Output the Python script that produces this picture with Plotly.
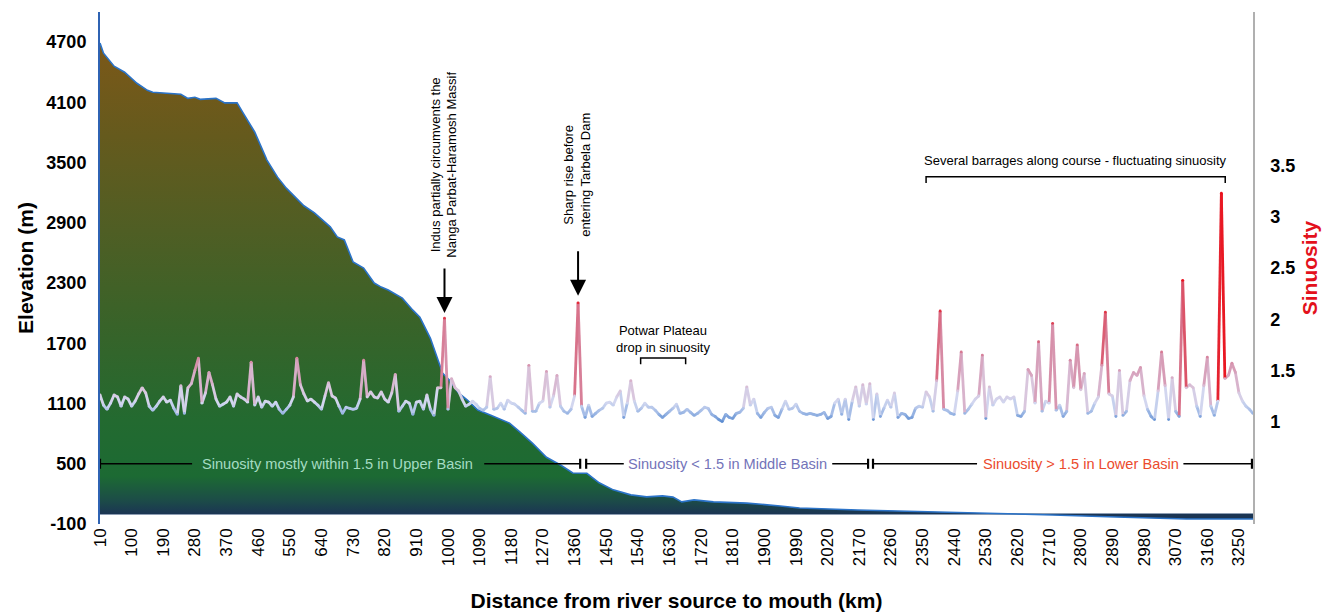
import plotly.graph_objects as go
from plotly.colors import sample_colorscale

FONT = "Arial, 'Liberation Sans', Helvetica, sans-serif"

# ---------------- data ----------------
# Elevation profile of the river (km from source, metres)
elev_km = [10, 20, 50, 80, 115, 145, 160, 200, 240, 260,
           280, 295, 340, 365, 400, 417, 450, 485, 515, 540,
           575, 590, 620, 665, 685, 705, 730, 760, 790, 810,
           830, 850, 870, 900, 920, 950, 970, 985, 1005, 1030,
           1055, 1085, 1120, 1175, 1205, 1240, 1280, 1320, 1355, 1395,
           1430, 1470, 1520, 1565, 1610, 1640, 1665, 1700, 1755, 1850,
           1945, 2000, 2165, 2400, 2600, 2720, 2900, 3100, 3290]
elev_m = [4690, 4590, 4460, 4400, 4290, 4220, 4200, 4190, 4180, 4140,
          4150, 4130, 4140, 4095, 4095, 3995, 3805, 3525, 3355, 3245,
          3125, 3070, 3000, 2860, 2760, 2730, 2510, 2450, 2300, 2260,
          2230, 2190, 2150, 2030, 1960, 1750, 1560, 1400, 1330, 1205,
          1135, 1035, 985, 905, 815, 705, 565, 488, 408, 405,
          310, 240, 190, 170, 180, 168, 120, 140, 120, 108,
          80, 60, 40, 20, 0, -10, -30, -50, -50]

# Sinuosity every 10 km (10 ... 3290 km)
sin_km = list(range(10, 3300, 10))
sinuosity = [
    1.26, 1.16, 1.12, 1.18, 1.26, 1.24, 1.15, 1.24, 1.22, 1.15,
    1.20, 1.27, 1.33, 1.28, 1.15, 1.11, 1.15, 1.20, 1.24, 1.19,
    1.21, 1.13, 1.07, 1.35, 1.08, 1.33, 1.37, 1.50, 1.62, 1.18,
    1.28, 1.48, 1.36, 1.22, 1.15, 1.17, 1.19, 1.24, 1.15, 1.27,
    1.24, 1.22, 1.19, 1.58, 1.16, 1.24, 1.14, 1.20, 1.19, 1.15,
    1.19, 1.12, 1.08, 1.12, 1.16, 1.24, 1.62, 1.36, 1.27, 1.20,
    1.22, 1.19, 1.16, 1.12, 1.25, 1.38, 1.25, 1.23, 1.15, 1.08,
    1.14, 1.13, 1.12, 1.13, 1.22, 1.60, 1.24, 1.29, 1.24, 1.23,
    1.29, 1.22, 1.19, 1.28, 1.46, 1.10, 1.15, 1.20, 1.18, 1.07,
    1.19, 1.20, 1.12, 1.26, 1.12, 1.06, 1.33, 1.33, 2.01, 1.12,
    1.42, 1.33, 1.30, 1.22, 1.15, 1.17, 1.20, 1.17, 1.13, 1.11,
    1.14, 1.44, 1.12, 1.13, 1.18, 1.12, 1.21, 1.18, 1.17, 1.14,
    1.11, 1.08, 1.55, 1.10, 1.10, 1.18, 1.20, 1.49, 1.14, 1.25,
    1.45, 1.15, 1.10, 1.08, 1.12, 1.25, 2.16, 1.15, 1.04, 1.16,
    1.05, 1.08, 1.11, 1.13, 1.18, 1.19, 1.16, 1.24, 1.30, 1.04,
    1.18, 1.40, 1.20, 1.10, 1.13, 1.18, 1.14, 1.14, 1.11, 1.07,
    1.04, 1.07, 1.10, 1.13, 1.17, 1.08, 1.09, 1.12, 1.09, 1.06,
    1.08, 1.11, 1.14, 1.13, 1.07, 1.05, 1.02, 1.00, 1.07, 1.04,
    1.03, 1.08, 1.09, 1.13, 1.34, 1.16, 1.22, 1.08, 1.04, 1.09,
    1.13, 1.14, 1.06, 1.04, 1.12, 1.20, 1.12, 1.13, 1.17, 1.10,
    1.08, 1.07, 1.08, 1.07, 1.06, 1.07, 1.09, 1.03, 1.05, 1.18,
    1.22, 1.07, 1.22, 1.02, 1.20, 1.34, 1.15, 1.36, 1.17, 1.37,
    1.02, 1.27, 1.05, 1.13, 1.21, 1.14, 1.28, 1.04, 1.08, 1.07,
    1.03, 1.04, 1.13, 1.15, 1.14, 1.29, 1.24, 1.10, 1.40, 2.08,
    1.12, 1.11, 1.08, 1.07, 1.30, 1.68, 1.08, 1.12, 1.17, 1.22,
    1.25, 1.65, 1.03, 1.34, 1.16, 1.22, 1.24, 1.19, 1.24, 1.22,
    1.24, 1.06, 1.05, 1.10, 1.51, 1.45, 1.18, 1.78, 1.10, 1.20,
    1.18, 1.96, 1.11, 1.16, 1.05, 1.10, 1.60, 1.33, 1.75, 1.31,
    1.47, 1.08, 1.10, 1.18, 1.24, 1.55, 2.07, 1.27, 1.25, 1.05,
    1.50, 1.06, 1.10, 1.40, 1.48, 1.45, 1.53, 1.25, 1.12, 1.05,
    1.02, 1.30, 1.68, 1.35, 1.02, 1.43, 1.10, 1.05, 2.38, 1.33,
    1.36, 1.33, 1.15, 1.05, 1.35, 1.63, 1.15, 1.06, 1.20, 3.23,
    1.42, 1.45, 1.57, 1.48, 1.28, 1.20, 1.15, 1.12, 1.08,
]

# x tick labels (one label every 9th distance category; "2020" as printed in the source)
x_tick_labels = ["10", "100", "190", "280", "370", "460", "550", "640", "730", "820",
                 "910", "1000", "1090", "1180", "1270", "1360", "1450", "1540", "1630",
                 "1720", "1810", "1900", "1990", "2020", "2170", "2260", "2350", "2440",
                 "2530", "2620", "2710", "2800", "2890", "2980", "3070", "3160", "3250"]
elev_ticks = [-100, 500, 1100, 1700, 2300, 2900, 3500, 4100, 4700]
elev_tick_labels = ["-100", "500", "1100", "1700", "2300", "2900", "3500", "4100", "4700"]
sin_ticks = [1, 1.5, 2, 2.5, 3, 3.5]
sin_tick_labels = ["1", "1.5", "2", "2.5", "3", "3.5"]

# Basin extents (km)
upper_basin = (10, 1376)
middle_basin = (1393, 2195)
lower_basin = (2209, 3287)

# ---------------- figure ----------------
fig = go.Figure()

elev_cs = [[0.0, '#1b3553'], [0.03, '#1c4d47'], [0.08, '#1c6a33'], [0.2, '#236a30'],
           [0.4, '#386329'], [0.6, '#4f5e24'], [0.8, '#655a1d'], [1.0, '#7c5818']]

fig.add_trace(go.Scatter(
    x=elev_km, y=elev_m, mode='lines', yaxis='y',
    line=dict(color='#2b73c8', width=1.6),
    fill='tozeroy',
    fillgradient=dict(type='vertical', colorscale=elev_cs, start=0, stop=4700),
    hoverinfo='skip'))

# sinuosity line, coloured by value (segments grouped into colour bins)
sin_cs = [[0.0, '#5c8cd1'], [0.057, '#9ab6e4'], [0.13, '#d1d7f0'], [0.214, '#d9c7de'],
          [0.32, '#d7a8c2'], [0.464, '#d7809a'], [0.643, '#dc4a5e'], [0.857, '#e62330'],
          [1.0, '#ea111c']]
lo, hi = 1.0, 2.4
nbins = 48
bins_x = [[] for _ in range(nbins)]
bins_y = [[] for _ in range(nbins)]
for i in range(len(sin_km) - 1):
    m = (sinuosity[i] + sinuosity[i + 1]) / 2
    t = min(max((m - lo) / (hi - lo), 0), 0.9999)
    b = int(t * nbins)
    bins_x[b] += [sin_km[i], sin_km[i + 1], None]
    bins_y[b] += [sinuosity[i], sinuosity[i + 1], None]
for b in range(nbins):
    if not bins_x[b]:
        continue
    col = sample_colorscale(sin_cs, [(b + 0.5) / nbins])[0]
    fig.add_trace(go.Scatter(x=bins_x[b], y=bins_y[b], yaxis='y2', mode='lines',
                             line=dict(color=col, width=2.8), hoverinfo='skip'))
fig.add_trace(go.Scatter(x=sin_km, y=sinuosity, yaxis='y2', mode='markers',
                         marker=dict(size=2.8, color=sinuosity, colorscale=sin_cs,
                                     cmin=lo, cmax=hi, line=dict(width=0)),
                         hoverinfo='skip'))

# ---------------- annotations ----------------
ann_font = dict(family=FONT, size=13, color='black')
basin_size = 14.6
annotations = [
    dict(x=986, y=3.51, xref='x', yref='y2', textangle=-90, showarrow=False,
         text='Indus partially circumvents the<br>Nanga Parbat-Haramosh Massif', font=ann_font),
    dict(x=990, y=2.06, xref='x', yref='y2', ax=0, ay=-46, text='', showarrow=True,
         arrowhead=2, arrowsize=1.6, arrowwidth=2, arrowcolor='black'),
    dict(x=1367, y=3.41, xref='x', yref='y2', textangle=-90, showarrow=False,
         text='Sharp rise before<br>entering Tarbela Dam', font=ann_font),
    dict(x=1370, y=2.23, xref='x', yref='y2', ax=0, ay=-46, text='', showarrow=True,
         arrowhead=2, arrowsize=1.6, arrowwidth=2, arrowcolor='black'),
    dict(x=1612, y=1.81, xref='x', yref='y2', showarrow=False,
         text='Potwar Plateau<br>drop in sinuosity', font=ann_font),
    dict(x=2784, y=3.55, xref='x', yref='y2', showarrow=False,
         text='Several barrages along course - fluctuating sinuosity', font=ann_font),
    dict(x=686, y=500, xref='x', yref='y', showarrow=False,
         text='Sinuosity mostly within 1.5 in Upper Basin',
         font=dict(family=FONT, size=basin_size, color='#a5dcc3')),
    dict(x=1795, y=500, xref='x', yref='y', showarrow=False,
         text='Sinuosity < 1.5 in Middle Basin',
         font=dict(family=FONT, size=basin_size, color='#7373b9')),
    dict(x=2801, y=500, xref='x', yref='y', showarrow=False,
         text='Sinuosity > 1.5 in Lower Basin',
         font=dict(family=FONT, size=basin_size, color='#eb4b2d')),
]

shapes = []
# brackets
shapes.append(dict(type='path', xref='x', yref='y2',
                   path='M 1548,1.56 L 1548,1.62 L 1676,1.62 L 1676,1.56',
                   line=dict(color='black', width=1.5)))
shapes.append(dict(type='path', xref='x', yref='y2',
                   path='M 2360,3.33 L 2360,3.39 L 3211,3.39 L 3211,3.33',
                   line=dict(color='black', width=1.5)))
# basin lines (broken around the labels)
basin_segments = [(upper_basin[0], 272), (1103, upper_basin[1]),
                  (middle_basin[0], 1500), (2093, middle_basin[1]),
                  (lower_basin[0], 2505), (3092, lower_basin[1])]
for a, b in basin_segments:
    shapes.append(dict(type='line', xref='x', yref='y', x0=a, x1=b, y0=500, y1=500,
                       line=dict(color='black', width=1.5)))
for xb in [upper_basin[0], upper_basin[1], middle_basin[0], middle_basin[1],
           lower_basin[0], lower_basin[1]]:
    shapes.append(dict(type='line', xref='x', yref='y', x0=xb, x1=xb, y0=450, y1=550,
                       line=dict(color='black', width=2.2)))

fig.update_layout(
    width=1331, height=615,
    margin=dict(l=100, r=78, t=12, b=91),
    paper_bgcolor='white', plot_bgcolor='white',
    showlegend=False,
    font=dict(family=FONT, color='black'),
    annotations=annotations,
    shapes=shapes,
    xaxis=dict(range=[10, 3290], tickmode='array',
               tickvals=[10 + 90 * i for i in range(len(x_tick_labels))],
               ticktext=x_tick_labels, tickangle=-90,
               tickfont=dict(family=FONT, size=17, color='black'),
               showgrid=False, zeroline=False, showline=False, ticks='',
               automargin=False,
               title=dict(text='Distance from river source to mouth (km)',
                          font=dict(family=FONT, size=21, weight='bold', color='black'),
                          standoff=28)),
    yaxis=dict(range=[-100, 5000], tickmode='array', tickvals=elev_ticks,
               ticktext=elev_tick_labels,
               tickfont=dict(family=FONT, size=18, weight='bold', color='black'),
               showgrid=False, zeroline=True, zerolinecolor='#8d9db2', zerolinewidth=2,
               showline=True, linecolor='#2f63b3', linewidth=2, ticks='',
               ticklabelstandoff=8, automargin=False,
               title=dict(text='Elevation (m)',
                          font=dict(family=FONT, size=21, weight='bold', color='black'),
                          standoff=7)),
    yaxis2=dict(overlaying='y', side='right', range=[0, 5], tickmode='array',
                tickvals=sin_ticks, ticktext=sin_tick_labels,
                tickfont=dict(family=FONT, size=18, weight='bold', color='black'),
                showgrid=False, zeroline=False, showline=True, linecolor='#b0b0b0',
                linewidth=1.5, ticks='', ticklabelstandoff=12, automargin=False,
                title=dict(text='Sinuosity',
                           font=dict(family=FONT, size=21, weight='bold', color='#e3111c'),
                           standoff=8)),
)

fig.write_html("out.html")
